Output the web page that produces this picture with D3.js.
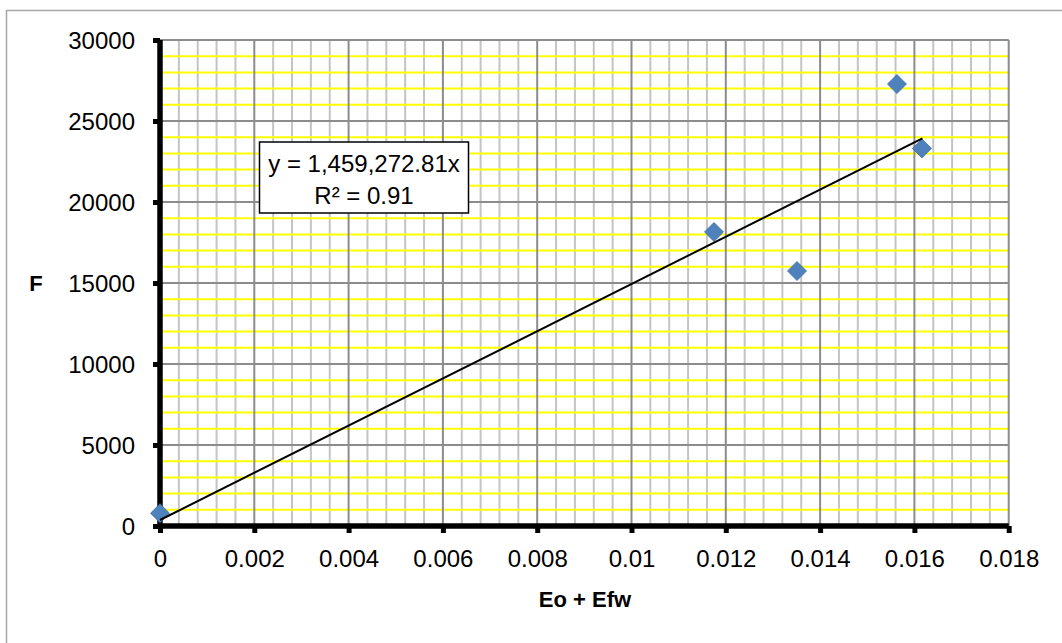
<!DOCTYPE html>
<html>
<head>
<meta charset="utf-8">
<script src="https://cdn.jsdelivr.net/npm/d3@7"></script>
<style>
  html, body { margin: 0; padding: 0; background: #fff; }
  svg { display: block; }
  text { font-family: "Liberation Sans", Arial, sans-serif; fill: #000; }
</style>
</head>
<body>
<svg id="chart" width="1062" height="643"></svg>
<script>
// ---- data ----
const xValues = [0, 0.01175, 0.01351, 0.01563, 0.01616];
const yValues = [790, 18150, 15740, 27280, 23310];
const trendX = [0, 0.01617];
const trendY = [370, 23930];
const xTicks = [0, 0.002, 0.004, 0.006, 0.008, 0.01, 0.012, 0.014, 0.016, 0.018];
const xTickLabels = ["0", "0.002", "0.004", "0.006", "0.008", "0.01", "0.012", "0.014", "0.016", "0.018"];
const yTicks = [0, 5000, 10000, 15000, 20000, 25000, 30000];
const yTickLabels = ["0", "5000", "10000", "15000", "20000", "25000", "30000"];
const equationLines = ["y = 1,459,272.81x", "R² = 0.91"];
const xTitle = "Eo + Efw";
const yTitle = "F";

const svg = d3.select("#chart");
const L = 160, R = 1008.7, T = 40, B = 526;
const x = d3.scaleLinear().domain([0, 0.018]).range([L, R]);
const y = d3.scaleLinear().domain([0, 30000]).range([B, T]);

// outer chart border (right/bottom fall outside the picture)
svg.append("rect").attr("x", 6.5).attr("y", 10.5).attr("width", 1200).attr("height", 800)
  .attr("fill", "#fff").attr("stroke", "#a6a6a6").attr("stroke-width", 1.5);

// plot area
svg.append("rect").attr("x", L).attr("y", T).attr("width", R - L).attr("height", B - T).attr("fill", "#fff");

const grid = svg.append("g");
// minor vertical gridlines every 0.0004
const xMinor = d3.range(0, 46).map(i => i * 0.0004).filter(v => Math.abs(v / 0.002 - Math.round(v / 0.002)) > 1e-6);
grid.selectAll(".vminor").data(xMinor).join("line")
  .attr("x1", d => x(d)).attr("x2", d => x(d)).attr("y1", T).attr("y2", B)
  .attr("stroke", "#c4c4c4").attr("stroke-width", 2);
// minor horizontal gridlines (yellow) every 1000
const yMinor = d3.range(0, 31).map(i => i * 1000).filter(v => v % 5000 !== 0);
grid.selectAll(".hminor").data(yMinor).join("line")
  .attr("x1", L).attr("x2", R).attr("y1", d => y(d)).attr("y2", d => y(d))
  .attr("stroke", "#ffff00").attr("stroke-width", 2);
// major gridlines
grid.selectAll(".vmajor").data(xTicks).join("line")
  .attr("x1", d => x(d)).attr("x2", d => x(d)).attr("y1", T).attr("y2", B)
  .attr("stroke", "#8c8c8c").attr("stroke-width", 2);
grid.selectAll(".hmajor").data(yTicks).join("line")
  .attr("x1", L).attr("x2", R).attr("y1", d => y(d)).attr("y2", d => y(d))
  .attr("stroke", "#8c8c8c").attr("stroke-width", 2);

// axes
const yAxis = d3.axisLeft(y).tickValues(yTicks).tickFormat((d, i) => yTickLabels[i]).tickSize(7).tickPadding(18);
const xAxis = d3.axisBottom(x).tickValues(xTicks).tickFormat((d, i) => xTickLabels[i]).tickSize(7).tickPadding(17);

const gy = svg.append("g").attr("transform", `translate(${L},0)`).call(yAxis);
const gx = svg.append("g").attr("transform", `translate(0,${B})`).call(xAxis);
[gy, gx].forEach(g => {
  g.select(".domain").attr("stroke", "#000").attr("stroke-width", 5.5);
  g.selectAll(".tick line").attr("stroke", "#000").attr("stroke-width", 5);
  g.selectAll(".tick text").attr("font-family", "Liberation Sans, Arial, sans-serif")
    .attr("font-size", 24).attr("fill", "#000");
});
gy.select(".domain").attr("d", `M0,${B}V${T}`);
gx.select(".domain").attr("d", `M${L},0H${R}`);
gy.selectAll(".tick text").attr("dy", "0.36em");
gx.selectAll(".tick text").attr("dy", "0.72em");

// markers
const pts = xValues.map((v, i) => [v, yValues[i]]);
svg.append("g").selectAll("path").data(pts).join("path")
  .attr("d", d3.symbol().type(d3.symbolDiamond2).size(230))
  .attr("transform", d => `translate(${x(d[0])},${y(d[1])})`)
  .attr("fill", "#4f81bd").attr("stroke", "#3c6ca6").attr("stroke-width", 0.8);

// trendline (drawn over markers)
const line = d3.line().x(d => x(d[0])).y(d => y(d[1]));
svg.append("path").datum(trendX.map((v, i) => [v, trendY[i]]))
  .attr("d", line).attr("fill", "none").attr("stroke", "#000").attr("stroke-width", 2);

// equation box
const box = svg.append("g");
box.append("rect").attr("x", 259.5).attr("y", 142).attr("width", 209).attr("height", 71)
  .attr("fill", "#fff").attr("stroke", "#000").attr("stroke-width", 1.5);
box.selectAll("text").data(equationLines).join("text")
  .attr("x", 364).attr("y", (d, i) => 172 + i * 31.5)
  .attr("text-anchor", "middle").attr("font-size", 24).text(d => d);

// axis titles
svg.append("text").attr("x", 585).attr("y", 607).attr("text-anchor", "middle")
  .attr("font-size", 22).attr("font-weight", "bold").text(xTitle);
svg.append("text").attr("x", 36).attr("y", 291).attr("text-anchor", "middle")
  .attr("font-size", 22).attr("font-weight", "bold").text(yTitle);
</script>
</body>
</html>
